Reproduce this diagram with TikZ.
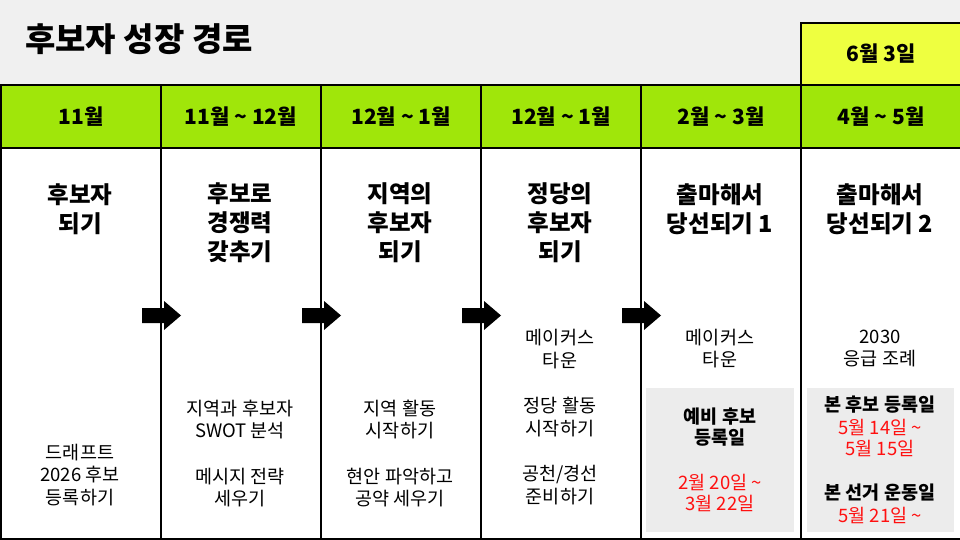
\documentclass[tikz,border=0pt]{standalone}
\usepackage{fontspec}
\setmainfont{Noto Sans CJK KR}
\definecolor{hdrgreen}{RGB}{160,230,10}
\definecolor{hdryellow}{RGB}{238,255,64}
\definecolor{bggray}{RGB}{240,240,240}
\definecolor{boxgray}{RGB}{236,236,236}
\definecolor{datered}{RGB}{255,16,16}
\newcommand\tld{\textasciitilde}
\begin{document}
\begin{tikzpicture}[x=1pt,y=-1pt,
  hdr/.style={draw=black, line width=2pt, fill=hdrgreen, anchor=north west,
    minimum width=160pt, minimum height=63pt, inner sep=0pt,
    font=\fontsize{21}{25}\selectfont\bfseries},
  colbody/.style={draw=black, line width=2pt, fill=white, anchor=north west,
    minimum width=160pt, minimum height=391pt, inner sep=0pt},
  ttl/.style={align=center, inner sep=0pt, font=\fontsize{23.5}{29}\selectfont\bfseries},
  bodytxt/.style={align=center, inner sep=0pt, font=\fontsize{18.5}{22.7}\selectfont},
  boldtxt/.style={align=center, inner sep=0pt, font=\fontsize{18.5}{21}\selectfont\bfseries},
  redtxt/.style={align=center, inner sep=0pt, text=datered, font=\fontsize{18.5}{21}\selectfont},
  notebox/.style={fill=boxgray, anchor=north west, inner sep=0pt, minimum height=144pt},
  flow/.style={fill=black}]
\useasboundingbox (0,0) rectangle (960,540);
\fill[bggray] (0,0) rectangle (960,540);

% title
\node[anchor=west, inner sep=0pt, font=\fontsize{33}{38}\selectfont\bfseries] (title) at (25,39) {후보자 성장 경로};

% column bodies
\foreach \i in {1,...,6} {
  \node[colbody] (c\i) at ({(\i-1)*160},147) {};
}
% headers
\node[hdr] (h1) at (0,84) {11월};
\node[hdr] (h2) at (160,84) {11월 \tld{} 12월};
\node[hdr] (h3) at (320,84) {12월 \tld{} 1월};
\node[hdr] (h4) at (480,84) {12월 \tld{} 1월};
\node[hdr] (h5) at (640,84) {2월 \tld{} 3월};
\node[hdr] (h6) at (800,84) {4월 \tld{} 5월};
\node[hdr, fill=hdryellow, minimum height=62pt] (y6) at (800,22) {6월 3일};

% arrows
\foreach \b in {160,320,480,640} {
  \fill[flow] (\b-18,308) -- (\b+4,308) -- (\b+4,301) -- (\b+21,315.5)
    -- (\b+4,330) -- (\b+4,323) -- (\b-18,323) -- cycle;
}

% gray boxes
\node[notebox, minimum width=148pt] (g5) at (646,388) {};
\node[notebox, minimum width=147pt] (g6) at (807,388) {};

% column titles
\node[ttl] (t1) at (80,209.5) {후보자\\되기};
\node[ttl] (t2) at (240,223) {후보로\\경쟁력\\갖추기};
\node[ttl] (t3) at (400,223) {지역의\\후보자\\되기};
\node[ttl] (t4) at (560,223) {정당의\\후보자\\되기};
\node[ttl] (t5) at (720,209.5) {출마해서\\당선되기 1};
\node[ttl] (t6) at (880,209.5) {출마해서\\당선되기 2};

% body texts
\node[bodytxt] (b1) at (80,475) {드래프트\\2026 후보\\등록하기};
\node[bodytxt] (b2) at (240,453.5) {지역과 후보자\\SWOT 분석\\[22.7pt]메시지 전략\\세우기};
\node[bodytxt] (b3) at (400,453.5) {지역 활동\\시작하기\\[22.7pt]현안 파악하고\\공약 세우기};
\node[bodytxt] (b4) at (560,417) {메이커스\\타운\\[22.7pt]정당 활동\\시작하기\\[22.7pt]공천/경선\\준비하기};
\node[bodytxt] (b5) at (720,348.5) {메이커스\\타운};
\node[bodytxt] (b6) at (880,348.5) {2030\\응급 조례};

% notes
\node[boldtxt] (n5a) at (720,427) {예비 후보\\등록일};
\node[redtxt] (n5b) at (720,492.5) {2월 20일 \tld\\3월 22일};
\node[boldtxt] (n6a) at (880,405) {본 후보 등록일};
\node[redtxt] (n6b) at (880,438) {5월 14일 \tld\\5월 15일};
\node[boldtxt] (n6c) at (880,493) {본 선거 운동일};
\node[redtxt] (n6d) at (880,515) {5월 21일 \tld};
\end{tikzpicture}
\end{document}
